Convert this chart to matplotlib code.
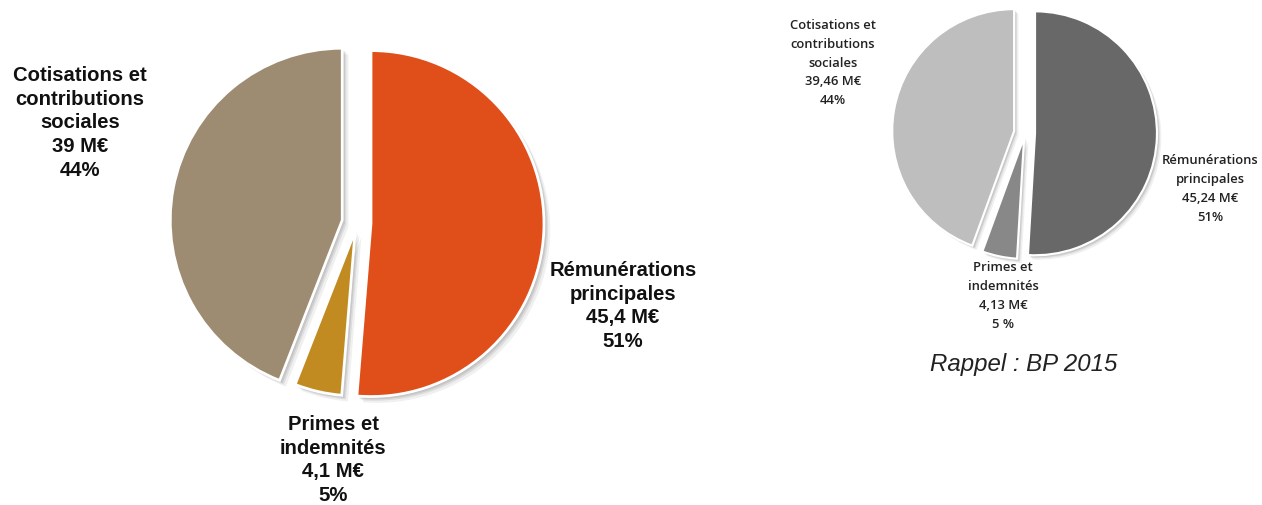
import matplotlib
matplotlib.use("Agg")
import matplotlib.pyplot as plt
from matplotlib.patches import Shadow

# Budget 2016 (main chart)
categories = ["Rémunérations\nprincipales", "Primes et\nindemnités", "Cotisations et\ncontributions\nsociales"]
values_2016 = [45.4, 4.1, 39.0]
amount_labels_2016 = ["45,4 M€", "4,1 M€", "39 M€"]
pct_labels_2016 = ["51%", "5%", "44%"]

# Reminder: BP 2015
values_2015 = [45.24, 4.13, 39.46]
amount_labels_2015 = ["45,24 M€", "4,13 M€", "39,46 M€"]
pct_labels_2015 = ["51%", "5 %", "44%"]

colors_2016 = ["#E04E1A", "#C18B22", "#9D8C71"]
colors_2015 = ["#686868", "#888888", "#BEBEBE"]

W, H = 1262, 506
fig = plt.figure(figsize=(W / 100, H / 100), dpi=100)
ax = fig.add_axes([0, 0, 1, 1])
ax.set_xlim(0, W)
ax.set_ylim(0, H)
ax.set_aspect("equal")
ax.axis("off")


def draw_pie(vals, colors, center, radius, explode, edge_lw, shadow_scale, radii=None):
    wedges, _ = ax.pie(vals, colors=colors, startangle=90, counterclock=False,
                       center=center, radius=radius, explode=explode,
                       wedgeprops=dict(edgecolor="white", linewidth=edge_lw),
                       frame=False)
    if radii is not None:
        for w, r in zip(wedges, radii):
            w.set_radius(r)
    # soft drop shadow, built from a few translucent offset copies
    for w in wedges:
        for k, a in [(1.0, 0.10), (2.0, 0.09), (3.0, 0.08), (4.5, 0.06)]:
            s = Shadow(w, k * shadow_scale, -k * shadow_scale, shade=0.0,
                       alpha=a, zorder=w.get_zorder() - 0.5)
            s.set_facecolor("#000000")
            s.set_edgecolor("none")
            ax.add_patch(s)
    return wedges


draw_pie(values_2016, colors_2016, (357, H - 224), 172, [14, 8, 15], 2.0, 1.0,
         radii=[173, 165, 172])
draw_pie(values_2015, colors_2015, (1025, H - 134), 122, [10, 4, 11], 1.6, 0.7)

ax.set_xlim(0, W)
ax.set_ylim(0, H)

big = dict(family="Liberation Sans", fontsize=14.6, fontweight="bold",
           ha="center", va="center", linespacing=1.33, color="#111111")
small = dict(family="Open Sans", fontsize=9.4, fontweight="semibold",
             ha="center", va="center", linespacing=1.57, color="#222222")

pos_2016 = [(623, H - 306), (333, H - 460), (80, H - 123)]
pos_2015 = [(1210, H - 189), (1003, H - 296), (833, H - 63)]

for cat, amt, pct, (x, y) in zip(categories, amount_labels_2016, pct_labels_2016, pos_2016):
    ax.text(x, y, f"{cat}\n{amt}\n{pct}", **big)

for cat, amt, pct, (x, y) in zip(categories, amount_labels_2015, pct_labels_2015, pos_2015):
    ax.text(x, y, f"{cat}\n{amt}\n{pct}", **small)

ax.text(1024, H - 365, "Rappel : BP 2015", family="Liberation Sans", style="italic",
        fontsize=17.3, ha="center", va="center", color="#222222")

fig.savefig("out.png", dpi=100)
